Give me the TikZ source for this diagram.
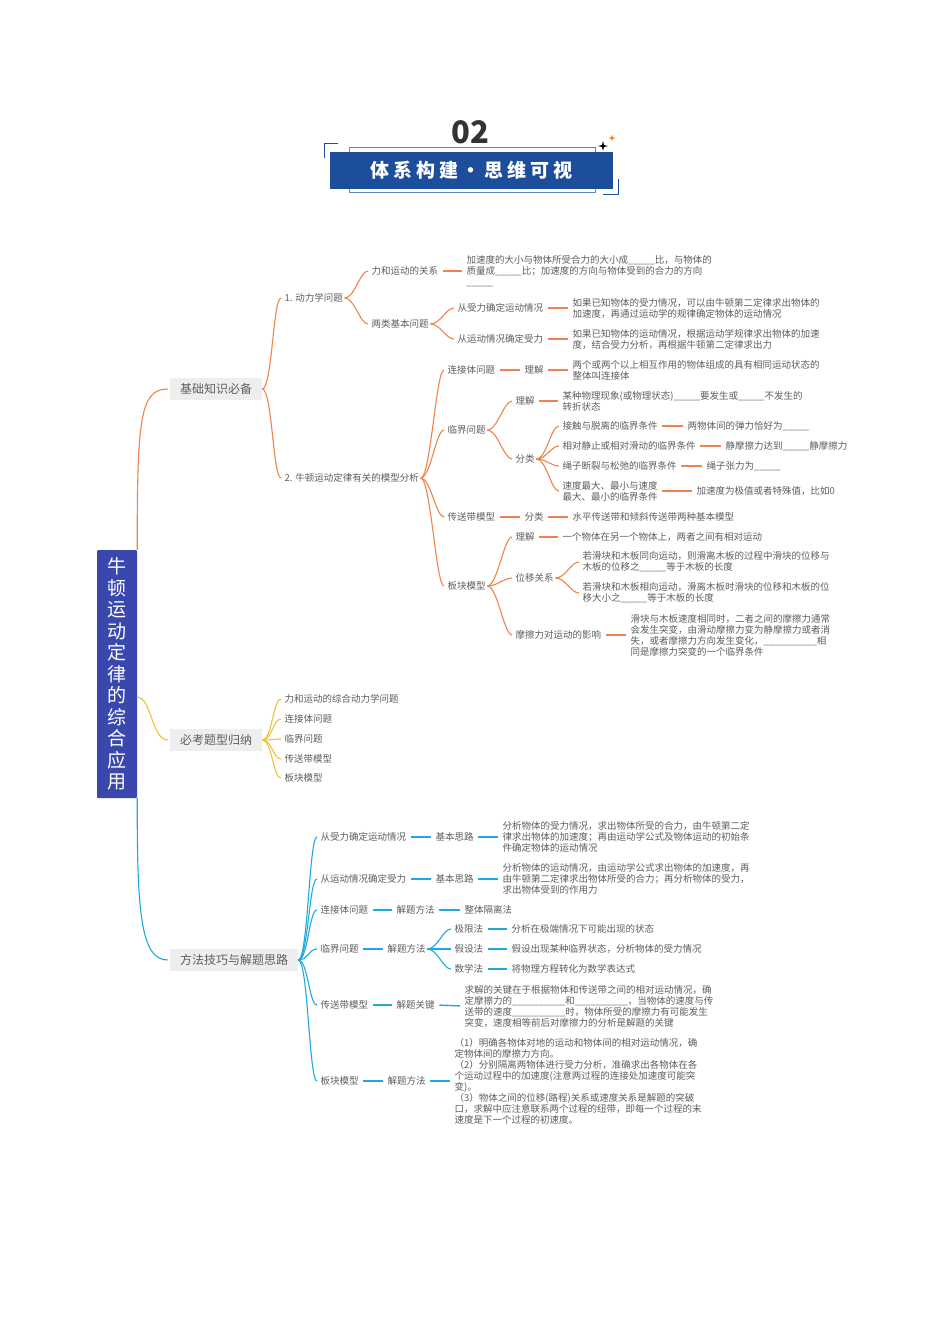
\documentclass[tikz,border=0pt]{standalone}
\usepackage{fontspec}
\setmainfont{Noto Sans CJK SC}

\definecolor{orangeL}{HTML}{F0844E}
\definecolor{yellowL}{HTML}{F4C03C}
\definecolor{blueL}{HTML}{1EAAE1}
\definecolor{txtgray}{HTML}{5E5E5E}
\definecolor{boxgray}{HTML}{EEEEEE}
\definecolor{mainblue}{HTML}{3A48AE}
\definecolor{titleblue}{HTML}{1D4E9B}

\newcommand{\fillin}{\_\_\_\_\_}
\newcommand{\fillinl}{\_\_\_\_\_\_\_\_\_\_}

\tikzset{
    lbl/.style={anchor=west, inner sep=1.5pt, text=txtgray, align=left,
        font=\fontsize{9.5}{11}\selectfont},
    topic/.style={fill=boxgray, text=txtgray, inner xsep=10pt, minimum height=22pt,
        font=\fontsize{12}{14}\selectfont},
    tie/.style={line width=1.4pt, shorten <=3pt, shorten >=3pt},
    brc/.style={line width=1.1pt, shorten >=2pt}
}

% fork from a parent to its children, ties between nodes on one row
\newcommand{\fork}[3]{\foreach \ch in {#3} \draw[brc,#1] (#2.east) .. controls +(10,0) and +(-10,0) .. (\ch.west);}
\newcommand{\ties}[2]{\foreach \a/\b in {#2} \draw[tie,#1] (\a.east) -- (\b.west);}

\begin{document}
\begin{tikzpicture}[x=1pt,y=-1pt]
    \useasboundingbox[fill=white] (0,0) rectangle (950,1344);

    % Title
    \node[text=black!80, font=\fontsize{31}{31}\selectfont\bfseries] (num) at (470,132) {02};
    \draw[titleblue!70, line width=0.6pt] (349,147) rectangle (595,192);
    \node[fill=titleblue, minimum width=283, minimum height=37, text=white,
        font=\fontsize{19}{19}\selectfont\bfseries\addfontfeature{LetterSpace=20}] (ttl) at (471.5,170) {体系构建・思维可视};
    \draw[titleblue, line width=1pt] (324,158) -- (324,143) -- (338,143);
    \draw[titleblue, line width=1pt] (603,194) -- (618,194) -- (618,179);
    \fill[black] (603,141) -- (604,145) -- (608,146) -- (604,147) -- (603,151) -- (602,147) -- (598,146) -- (602,145) -- cycle;
    \fill[orange] (612,134.5) -- (612.8,137.2) -- (615.5,138) -- (612.8,138.8) -- (612,141.5) -- (611.2,138.8) -- (608.5,138) -- (611.2,137.2) -- cycle;

    % Main topic
    \node[fill=mainblue, rounded corners=1pt, minimum width=40, minimum height=248, text=white, align=center,
        font=\fontsize{19}{21.5}\selectfont] (main) at (117,674) {牛\\顿\\运\\动\\定\\律\\的\\综\\合\\应\\用};

    % Branch 1: basics
    \node[topic] (basic) at (216,389) {基础知识必备};
    \draw[brc, orangeL] (main.north east) .. controls +(0,-130) and +(-30,0) .. (basic.west);

    \node[lbl] (dyn) at (283,298) {1. 动力学问题};
    \node[lbl] (fm) at (370,271) {力和运动的关系};
    \node[lbl] (fmT) at (465,271) {加速度的大小与物体所受合力的大小成\fillin 比，与物体的\\质量成\fillin 比；加速度的方向与物体受到的合力的方向\\\fillin};
    \node[lbl] (two) at (370,324) {两类基本问题};
    \node[lbl] (twoA) at (456,308) {从受力确定运动情况};
    \node[lbl] (twoAT) at (571,308) {如果已知物体的受力情况，可以由牛顿第二定律求出物体的\\加速度，再通过运动学的规律确定物体的运动情况};
    \node[lbl] (twoB) at (456,339) {从运动情况确定受力};
    \node[lbl] (twoBT) at (571,339) {如果已知物体的运动情况，根据运动学规律求出物体的加速\\度，结合受力分析，再根据牛顿第二定律求出力};

    \node[lbl] (mod) at (283,478) {2. 牛顿运动定律有关的模型分析};
    \node[lbl] (con) at (446,370) {连接体问题};
    \node[lbl] (conU) at (523,370) {理解};
    \node[lbl] (conT) at (571,370) {两个或两个以上相互作用的物体组成的具有相同运动状态的\\整体叫连接体};
    \node[lbl] (cri) at (446,430) {临界问题};
    \node[lbl] (criU) at (514,401) {理解};
    \node[lbl] (criUT) at (561,401) {某种物理现象(或物理状态)\fillin 要发生或\fillin 不发生的\\转折状态};
    \node[lbl] (criC) at (514,459) {分类};
    \node[lbl] (criA) at (561,426) {接触与脱离的临界条件};
    \node[lbl] (criAT) at (686,426) {两物体间的弹力恰好为\fillin};
    \node[lbl] (criB) at (561,446) {相对静止或相对滑动的临界条件};
    \node[lbl] (criBT) at (724,446) {静摩擦力达到\fillin 静摩擦力};
    \node[lbl] (criD) at (561,466) {绳子断裂与松弛的临界条件};
    \node[lbl] (criDT) at (705,466) {绳子张力为\fillin};
    \node[lbl] (criE) at (561,491) {速度最大、最小与速度\\最大、最小的临界条件};
    \node[lbl] (criET) at (695,491) {加速度为极值或者特殊值，比如0};
    \node[lbl] (belt) at (446,517) {传送带模型};
    \node[lbl] (beltC) at (523,517) {分类};
    \node[lbl] (beltT) at (571,517) {水平传送带和倾斜传送带两种基本模型};
    \node[lbl] (plate) at (446,586) {板块模型};
    \node[lbl] (plU) at (514,537) {理解};
    \node[lbl] (plUT) at (561,537) {一个物体在另一个物体上，两者之间有相对运动};
    \node[lbl] (plD) at (514,578) {位移关系};
    \node[lbl] (plDA) at (581,562) {若滑块和木板同向运动，则滑离木板的过程中滑块的位移与\\木板的位移之\fillin 等于木板的长度};
    \node[lbl] (plDB) at (581,593) {若滑块和木板相向运动，滑离木板时滑块的位移和木板的位\\移大小之\fillin 等于木板的长度};
    \node[lbl] (plF) at (514,635) {摩擦力对运动的影响};
    \node[lbl] (plFT) at (629,635) {滑块与木板速度相同时，二者之间的摩擦力通常\\会发生突变，由滑动摩擦力变为静摩擦力或者消\\失，或者摩擦力方向发生变化，\fillinl 相\\同是摩擦力突变的一个临界条件};

    \fork{orangeL}{basic}{dyn,mod}
    \fork{orangeL}{dyn}{fm,two}
    \fork{orangeL}{two}{twoA,twoB}
    \fork{orangeL}{mod}{con,cri,belt,plate}
    \fork{orangeL}{cri}{criU,criC}
    \fork{orangeL}{criC}{criA,criB,criD,criE}
    \fork{orangeL}{plate}{plU,plD,plF}
    \fork{orangeL}{plD}{plDA,plDB}
    \ties{orangeL}{fm/fmT,twoA/twoAT,twoB/twoBT,con/conU,conU/conT,criU/criUT,criA/criAT,criB/criBT,criD/criDT,criE/criET,belt/beltC,beltC/beltT,plU/plUT,plF/plFT}

    % Branch 2: exam types
    \node[topic] (exam) at (216,740) {必考题型归纳};
    \draw[brc, yellowL] (main.east |- 0,697) .. controls +(14,0) and +(-18,0) .. (exam.west);
    \node[lbl] (exA) at (283,699) {力和运动的综合动力学问题};
    \node[lbl] (exB) at (283,719) {连接体问题};
    \node[lbl] (exC) at (283,739) {临界问题};
    \node[lbl] (exD) at (283,759) {传送带模型};
    \node[lbl] (exE) at (283,778) {板块模型};
    \fork{yellowL}{exam}{exA,exB,exC,exD,exE}

    % Branch 3: methods
    \node[topic] (meth) at (234,960) {方法技巧与解题思路};
    \draw[brc, blueL] (main.south east) .. controls +(0,110) and +(-30,0) .. (meth.west);

    \node[lbl] (mA) at (319,837) {从受力确定运动情况};
    \node[lbl] (mAk) at (434,837) {基本思路};
    \node[lbl] (mAT) at (501,837) {分析物体的受力情况，求出物体所受的合力，由牛顿第二定\\律求出物体的加速度；再由运动学公式及物体运动的初始条\\件确定物体的运动情况};
    \node[lbl] (mB) at (319,879) {从运动情况确定受力};
    \node[lbl] (mBk) at (434,879) {基本思路};
    \node[lbl] (mBT) at (501,879) {分析物体的运动情况，由运动学公式求出物体的加速度，再\\由牛顿第二定律求出物体所受的合力；再分析物体的受力，\\求出物体受到的作用力};
    \node[lbl] (mC) at (319,910) {连接体问题};
    \node[lbl] (mCk) at (395,910) {解题方法};
    \node[lbl] (mCT) at (463,910) {整体隔离法};
    \node[lbl] (mD) at (319,949) {临界问题};
    \node[lbl] (mDk) at (386,949) {解题方法};
    \node[lbl] (mDa) at (453,929) {极限法};
    \node[lbl] (mDaT) at (510,929) {分析在极端情况下可能出现的状态};
    \node[lbl] (mDb) at (453,949) {假设法};
    \node[lbl] (mDbT) at (510,949) {假设出现某种临界状态，分析物体的受力情况};
    \node[lbl] (mDc) at (453,969) {数学法};
    \node[lbl] (mDcT) at (510,969) {将物理方程转化为数学表达式};
    \node[lbl] (mE) at (319,1005) {传送带模型};
    \node[lbl] (mEk) at (395,1005) {解题关键};
    \node[lbl] (mET) at (463,1006) {求解的关键在于根据物体和传送带之间的相对运动情况，确\\定摩擦力的\fillinl 和\fillinl ，当物体的速度与传\\送带的速度\fillinl 时，物体所受的摩擦力有可能发生\\突变，速度相等前后对摩擦力的分析是解题的关键};
    \node[lbl] (mF) at (319,1081) {板块模型};
    \node[lbl] (mFk) at (386,1081) {解题方法};
    \node[lbl] (mFT) at (453,1081) {（1）明确各物体对地的运动和物体间的相对运动情况，确\\定物体间的摩擦力方向。\\（2）分别隔离两物体进行受力分析，准确求出各物体在各\\个运动过程中的加速度(注意两过程的连接处加速度可能突\\变)。\\（3）物体之间的位移(路程)关系或速度关系是解题的突破\\口，求解中应注意联系两个过程的纽带，即每一个过程的末\\速度是下一个过程的初速度。};

    \fork{blueL}{meth}{mA,mB,mC,mD,mE,mF}
    \fork{blueL}{mDk}{mDa,mDb,mDc}
    \ties{blueL}{mA/mAk,mAk/mAT,mB/mBk,mBk/mBT,mC/mCk,mCk/mCT,mD/mDk,mDa/mDaT,mDb/mDbT,mDc/mDcT,mE/mEk,mEk/mET,mF/mFk,mFk/mFT}
\end{tikzpicture}
\end{document}
